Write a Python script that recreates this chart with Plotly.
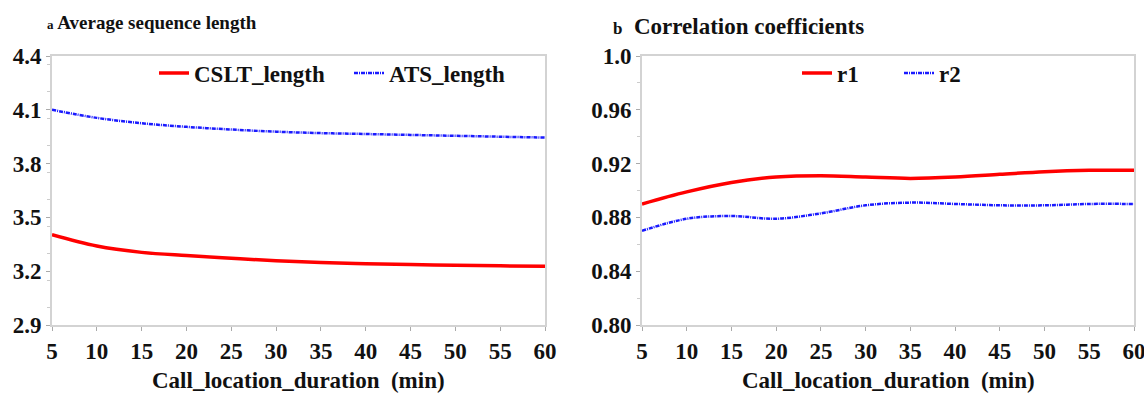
import plotly.graph_objects as go

duration = [5, 10, 15, 20, 25, 30, 35, 40, 45, 50, 55, 60]
cslt_length = [3.403, 3.34, 3.305, 3.287, 3.272, 3.258, 3.248, 3.242, 3.237, 3.233, 3.230, 3.228]
ats_length = [4.100, 4.055, 4.025, 4.005, 3.990, 3.978, 3.970, 3.965, 3.960, 3.955, 3.950, 3.945]
r1 = [0.890, 0.899, 0.906, 0.910, 0.911, 0.910, 0.909, 0.910, 0.912, 0.914, 0.915, 0.915]
r2 = [0.870, 0.879, 0.881, 0.879, 0.883, 0.889, 0.891, 0.890, 0.889, 0.889, 0.890, 0.890]

left_yticks = [2.9, 3.2, 3.5, 3.8, 4.1, 4.4]
left_yticktext = ["2.9", "3.2", "3.5", "3.8", "4.1", "4.4"]
right_yticks = [0.80, 0.84, 0.88, 0.92, 0.96, 1.0]
right_yticktext = ["0.80", "0.84", "0.88", "0.92", "0.96", "1.0"]
xticks = [5, 10, 15, 20, 25, 30, 35, 40, 45, 50, 55, 60]
xtitle = "Call_location_duration  (min)"

FONT = "Liberation Serif, Times New Roman, DejaVu Serif, serif"
RED = "#ff0000"
BLUE = "#1a1aff"
TXT = "#111111"

fig = go.Figure()
fig.add_trace(go.Scatter(x=duration, y=cslt_length, name="<b>CSLT_length</b>", mode="lines",
                         line=dict(color=RED, width=3.5, shape="spline"),
                         xaxis="x", yaxis="y", legend="legend"))
fig.add_trace(go.Scatter(x=duration, y=ats_length, name="<b>ATS_length</b>", mode="lines",
                         line=dict(color=BLUE, width=2.5, shape="spline", dash="4px,1px,1px,1px"),
                         xaxis="x", yaxis="y", legend="legend"))
fig.add_trace(go.Scatter(x=duration, y=r1, name="<b>r1</b>", mode="lines",
                         line=dict(color=RED, width=3.5, shape="spline"),
                         xaxis="x2", yaxis="y2", legend="legend2"))
fig.add_trace(go.Scatter(x=duration, y=r2, name="<b>r2</b>", mode="lines",
                         line=dict(color=BLUE, width=2.5, shape="spline", dash="4px,1px,1px,1px"),
                         xaxis="x2", yaxis="y2", legend="legend2"))

W, H = 1144, 396
ybot = (H - 325) / H
ytop = (H - 56) / H

axis_common = dict(showgrid=False, zeroline=False, showline=True, linecolor="#d3d3d3",
                   linewidth=2, mirror=True, ticks="outside", ticklen=4, tickwidth=1,
                   tickcolor="#aaaaaa", automargin=False, ticklabeloverflow="allow",
                   tickfont=dict(family=FONT, size=23, color=TXT))

xaxis_common = dict(axis_common, range=[5, 60], tickvals=xticks,
                    ticktext=["<b>%d</b>" % v for v in xticks])

fig.update_layout(
    width=W, height=H, autosize=False,
    margin=dict(l=0, r=0, t=0, b=0),
    paper_bgcolor="white", plot_bgcolor="white",
    font=dict(family=FONT, color=TXT),
    xaxis=dict(xaxis_common, domain=[52 / W, 545 / W], anchor="y"),
    yaxis=dict(axis_common, domain=[ybot, ytop], anchor="x", range=[2.9, 4.4],
               tickvals=left_yticks, ticktext=["<b>%s</b>" % t for t in left_yticktext],
               minor=dict(ticks="outside", ticklen=3, dtick=0.15, tickcolor="#cccccc")),
    xaxis2=dict(xaxis_common, domain=[642 / W, 1134 / W], anchor="y2"),
    yaxis2=dict(axis_common, domain=[ybot, ytop], anchor="x2", range=[0.80, 1.0],
                tickvals=right_yticks, ticktext=["<b>%s</b>" % t for t in right_yticktext],
                minor=dict(ticks="outside", ticklen=3, dtick=0.02, tickcolor="#cccccc")),
    legend=dict(orientation="h", x=154 / W, y=1 - 73 / H, xanchor="left", yanchor="middle",
                bgcolor="rgba(0,0,0,0)", font=dict(family=FONT, size=23, color=TXT),
                itemwidth=30, tracegroupgap=0, entrywidth=150),
    legend2=dict(orientation="h", x=797 / W, y=1 - 73 / H, xanchor="left", yanchor="middle",
                 bgcolor="rgba(0,0,0,0)", font=dict(family=FONT, size=23, color=TXT),
                 itemwidth=30, tracegroupgap=0, entrywidth=57),
    showlegend=True,
)

fig.add_annotation(text="<b><span style='font-size:13px'>a</span> Average sequence length</b>",
                   xref="paper", yref="paper", x=45 / W, y=1 - 22 / H, xanchor="left",
                   yanchor="middle", showarrow=False,
                   font=dict(family=FONT, size=19, color=TXT))
fig.add_annotation(text="<b><span style='font-size:17px'>b</span>  Correlation coefficients</b>",
                   xref="paper", yref="paper", x=611 / W, y=1 - 27 / H, xanchor="left",
                   yanchor="middle", showarrow=False,
                   font=dict(family=FONT, size=23, color=TXT))
for xc in [(52 + 545) / 2 / W, (642 + 1134) / 2 / W]:
    fig.add_annotation(text="<b>%s</b>" % xtitle, xref="paper", yref="paper",
                       x=xc, y=1 - 380 / H, xanchor="center", yanchor="middle",
                       showarrow=False, font=dict(family=FONT, size=23, color=TXT))

fig.write_html("out.html", config={"displayModeBar": False},
               post_script="document.body.style.margin='0px';document.body.style.overflow='hidden';")
